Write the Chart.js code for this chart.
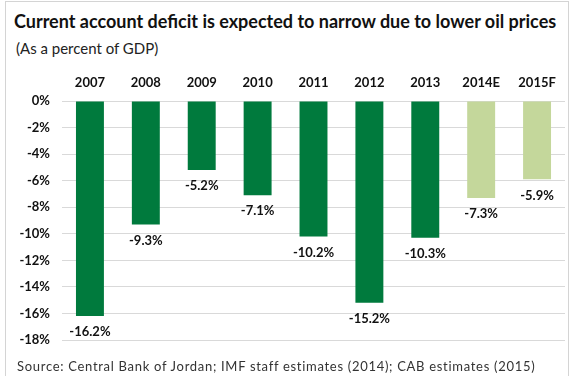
<!DOCTYPE html>
<html lang="en">
<head>
<meta charset="UTF-8">
<title>Current account deficit</title>
<script src="https://cdn.jsdelivr.net/npm/chart.js"></script>
<style>
  body { margin: 0; background: #fff; font-family: Lato, "Open Sans", sans-serif; }
  #wrap { position: relative; width: 571px; height: 376px; overflow: hidden; }
  #frame { position: absolute; left: 5px; top: 1px; width: 562px; height: 380px; border: 1px solid #d4d4d4; }
  #title { position: absolute; left: 14px; top: 10px; font-size: 18px; font-weight: bold; color: #111; white-space: nowrap; }
  #sub { position: absolute; left: 16px; top: 39px; font-size: 15px; color: #222; }
  #source { position: absolute; left: 17px; top: 358px; font-size: 13px; letter-spacing: 0.7px; color: #333; white-space: nowrap; }
  canvas { position: absolute; left: 0; top: 0; }
</style>
</head>
<body>
<div id="wrap">
  <div id="frame"></div>
  <div id="title">Current account deficit is expected to narrow due to lower oil prices</div>
  <div id="sub">(As a percent of GDP)</div>
  <canvas id="chart" width="571" height="376"></canvas>
  <div id="source">Source: Central Bank of Jordan; IMF staff estimates (2014); CAB estimates (2015)</div>
</div>
<script>
  // current account balance, % of GDP
  const years = ['2007', '2008', '2009', '2010', '2011', '2012', '2013', '2014E', '2015F'];
  const balance = [-16.2, -9.3, -5.2, -7.1, -10.2, -15.2, -10.3, -7.3, -5.9];
  const barColors = ['#007a3d', '#007a3d', '#007a3d', '#007a3d', '#007a3d', '#007a3d', '#007a3d', '#c4d79b', '#c4d79b'];

  // value labels under each bar end
  const valueLabels = {
    id: 'valueLabels',
    afterDatasetsDraw(chart) {
      const ctx = chart.ctx;
      const meta = chart.getDatasetMeta(0);
      ctx.save();
      ctx.font = 'bold 13px Lato, sans-serif';
      ctx.fillStyle = '#111';
      ctx.textAlign = 'center';
      ctx.textBaseline = 'middle';
      meta.data.forEach((bar, i) => {
        ctx.fillText(balance[i].toFixed(1) + '%', bar.x, bar.y + 16);
      });
      ctx.restore();
    }
  };

  new Chart(document.getElementById('chart'), {
    type: 'bar',
    data: {
      labels: years,
      datasets: [{
        data: balance,
        backgroundColor: barColors,
        barPercentage: 0.5,
        categoryPercentage: 1
      }]
    },
    options: {
      responsive: false,
      animation: false,
      layout: { padding: { left: 0, right: 6, top: 66, bottom: 36 } },
      plugins: { legend: { display: false }, tooltip: { enabled: false } },
      scales: {
        x: {
          position: 'top',
          grid: { display: false },
          border: { display: false },
          ticks: { color: '#111', font: { family: 'Lato', size: 13, weight: 'bold' }, padding: 2 },
          afterFit(scale) { scale.height = 35; }
        },
        y: {
          min: -18,
          max: 0,
          grid: { color: '#d9d9d9', drawTicks: false },
          border: { display: false },
          ticks: {
            stepSize: 2,
            padding: 12,
            color: '#111',
            font: { family: 'Lato', size: 13, weight: 'bold' },
            callback: v => v + '%'
          },
          afterFit(scale) { scale.width = 62; }
        }
      }
    },
    plugins: [valueLabels]
  });
</script>
</body>
</html>
